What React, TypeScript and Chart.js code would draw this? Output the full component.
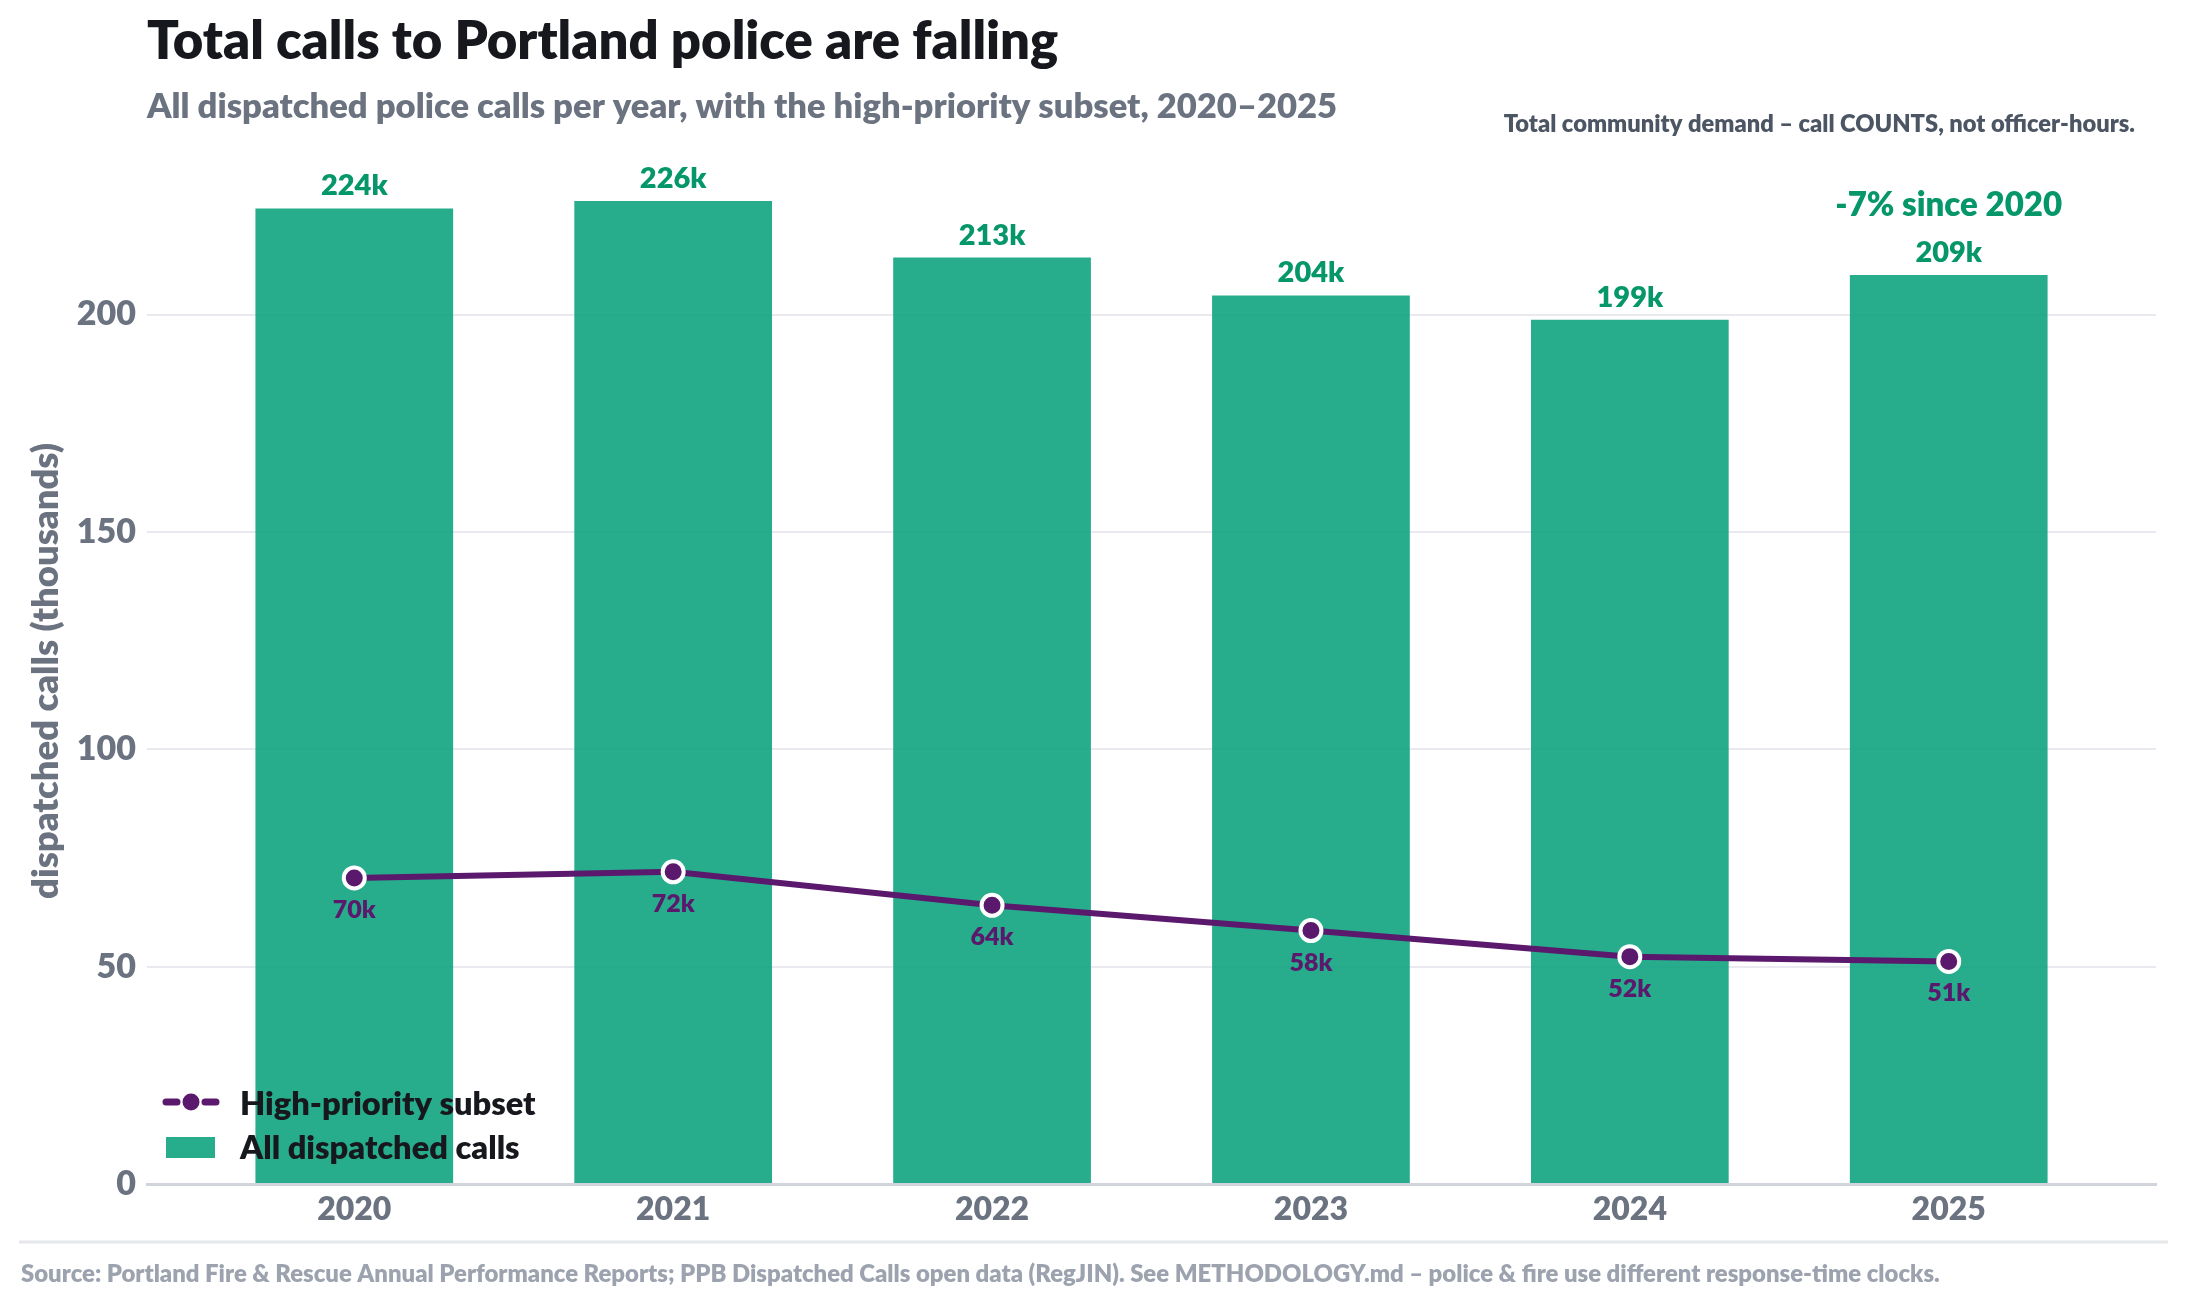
import { useEffect, useRef } from "react"
import { Chart, registerables } from "chart.js"

Chart.register(...registerables)

// ── data (thousands of calls) ────────────────────────────────
const YEARS = ["2020", "2021", "2022", "2023", "2024", "2025"]
const ALL_CALLS = [224.4, 226.1, 213.1, 204.4, 198.8, 209.1]
const HIGH_PRIORITY = [70.4, 71.8, 64.1, 58.3, 52.3, 51.2]
const Y_TICKS = [0, 50, 100, 150, 200]

const TITLE = "Total calls to Portland police are falling"
const SUBTITLE = "All dispatched police calls per year, with the high-priority subset, 2020–2025"
const NOTE = "Total community demand – call COUNTS, not officer-hours."
const SOURCE =
  "Source: Portland Fire & Rescue Annual Performance Reports; PPB Dispatched Calls open data (RegJIN). See METHODOLOGY.md – police & fire use different response-time clocks."
const Y_TITLE = "dispatched calls (thousands)"

const FONT = "Lato, 'Noto Sans', sans-serif"
const W = 800 // heavy weight, close to the reference's demi-bold face
const BAR_FILL = "rgba(16,163,127,0.9)"
const GREEN_TEXT = "#059669"
const PURPLE = "#5a196c"
const GRAY = "#6b7280"

const decorPlugin = {
  id: "decor",
  beforeDraw(chart: Chart) {
    const { ctx, width, height } = chart
    ctx.save()
    ctx.fillStyle = "#ffffff"
    ctx.fillRect(0, 0, width, height)
    ctx.restore()
  },
  afterDatasetsDraw(chart: Chart) {
    const { ctx } = chart
    const pts = chart.getDatasetMeta(0).data
    const bars = chart.getDatasetMeta(1).data
    ctx.save()
    ctx.textAlign = "center"
    ctx.textBaseline = "alphabetic"

    // value labels above bars
    ctx.fillStyle = GREEN_TEXT
    ctx.font = `${W} 29px ${FONT}`
    bars.forEach((b: any, i: number) => {
      ctx.fillText(`${Math.round(ALL_CALLS[i])}k`, b.x, b.y - 13)
    })

    // change since first year, above the last bar
    const n = ALL_CALLS.length
    const pct = Math.round(((ALL_CALLS[n - 1] - ALL_CALLS[0]) / ALL_CALLS[0]) * 100)
    const last: any = bars[n - 1]
    ctx.font = `${W} 33px ${FONT}`
    ctx.fillText(`${pct}% since ${YEARS[0]}`, last.x, last.y - 59)

    // labels under the line points
    ctx.fillStyle = PURPLE
    ctx.font = `${W} 25px ${FONT}`
    pts.forEach((p: any, i: number) => {
      ctx.fillText(`${Math.round(HIGH_PRIORITY[i])}k`, p.x, p.y + 40)
    })
    ctx.restore()
  },
  afterDraw(chart: Chart) {
    const { ctx, chartArea, width } = chart
    ctx.save()
    ctx.textBaseline = "alphabetic"

    // headings
    ctx.textAlign = "left"
    ctx.fillStyle = "#16181d"
    ctx.font = `${W} 52.6px ${FONT}`
    ctx.fillText(TITLE, 147, 59)
    ctx.fillStyle = GRAY
    ctx.font = `${W} 34.6px ${FONT}`
    ctx.fillText(SUBTITLE, 147, 118)
    ctx.textAlign = "right"
    ctx.fillStyle = "#4b5563"
    ctx.font = `${W} 23.7px ${FONT}`
    ctx.fillText(NOTE, 2135, 132)

    // legend, bottom-left inside the plot
    const lx = chartArea.left + 16
    const ly1 = chartArea.bottom - 82
    const ly2 = chartArea.bottom - 36
    ctx.strokeStyle = PURPLE
    ctx.lineWidth = 7
    ctx.lineCap = "round"
    ctx.beginPath()
    ctx.moveTo(lx + 3, ly1)
    ctx.lineTo(lx + 14, ly1)
    ctx.moveTo(lx + 42, ly1)
    ctx.lineTo(lx + 53, ly1)
    ctx.stroke()
    ctx.fillStyle = PURPLE
    ctx.beginPath()
    ctx.arc(lx + 28, ly1, 8.5, 0, Math.PI * 2)
    ctx.fill()
    ctx.fillStyle = BAR_FILL
    ctx.fillRect(lx + 3, ly2 - 11, 49, 21)

    ctx.textAlign = "left"
    ctx.fillStyle = "#16181d"
    ctx.font = `${W} 32.6px ${FONT}`
    ctx.fillText(chart.data.datasets[0].label as string, lx + 77, ly1 + 13)
    ctx.fillText(chart.data.datasets[1].label as string, lx + 77, ly2 + 11)

    // footer rule and source line
    ctx.strokeStyle = "#e5e7eb"
    ctx.lineWidth = 3
    ctx.lineCap = "butt"
    ctx.beginPath()
    ctx.moveTo(19, 1242)
    ctx.lineTo(width - 19, 1242)
    ctx.stroke()
    ctx.fillStyle = "#9ca3af"
    ctx.font = `${W} 23.9px ${FONT}`
    ctx.fillText(SOURCE, 21, 1282)
    ctx.restore()
  },
}

export default function App() {
  const canvasRef = useRef<HTMLCanvasElement>(null)

  useEffect(() => {
    document.body.style.margin = "0"
    const canvas = canvasRef.current
    if (!canvas) return

    const chart = new Chart(canvas, {
      type: "bar",
      data: {
        datasets: [
          {
            type: "line",
            label: "High-priority subset",
            data: YEARS.map((_, i) => ({ x: i, y: HIGH_PRIORITY[i] })),
            borderColor: PURPLE,
            borderWidth: 6,
            pointRadius: 10.5,
            pointBorderWidth: 4,
            pointBorderColor: "#ffffff",
            pointBackgroundColor: PURPLE,
            tension: 0,
            order: 0,
          },
          {
            type: "bar",
            label: "All dispatched calls",
            data: YEARS.map((_, i) => ({ x: i, y: ALL_CALLS[i] })),
            backgroundColor: BAR_FILL,
            borderWidth: 0,
            barPercentage: 0.62,
            categoryPercentage: 1,
            order: 1,
          },
        ],
      } as any,
      options: {
        animation: false,
        responsive: true,
        maintainAspectRatio: false,
        events: [],
        layout: { padding: { top: 158, right: 31, left: 0, bottom: 0 } },
        plugins: {
          legend: { display: false },
          tooltip: { enabled: false },
        },
        scales: {
          x: {
            type: "linear",
            offset: false,
            min: -0.65,
            max: 5.65,
            afterBuildTicks: (axis: any) => {
              axis.ticks = YEARS.map((_, i) => ({ value: i }))
            },
            afterFit: (axis: any) => {
              axis.height = 122
            },
            ticks: {
              callback: (v: any) => YEARS[v as number] ?? "",
              color: GRAY,
              font: { family: FONT, size: 32, weight: W },
              padding: 6,
              maxRotation: 0,
            },
            grid: { display: false, drawTicks: false, offset: false },
            border: { display: true, color: "#d1d5db", width: 3 },
          },
          y: {
            min: 0,
            max: 236,
            afterBuildTicks: (axis: any) => {
              axis.ticks = Y_TICKS.map((v) => ({ value: v }))
            },
            afterFit: (axis: any) => {
              axis.width = 147
            },
            ticks: {
              color: GRAY,
              font: { family: FONT, size: 34, weight: W },
              padding: 11,
            },
            grid: { color: "#e9e9ef", lineWidth: 2, drawTicks: false },
            border: { display: false },
            title: {
              display: true,
              text: Y_TITLE,
              color: GRAY,
              font: { family: FONT, size: 36.4, weight: W },
              padding: { top: 24, bottom: 0 },
            },
          },
        },
      } as any,
      plugins: [decorPlugin],
    })

    return () => {
      chart.destroy()
    }
  }, [])

  return (
    <div style={{ position: "relative", width: 2187, height: 1306 }}>
      <canvas ref={canvasRef} />
    </div>
  )
}
